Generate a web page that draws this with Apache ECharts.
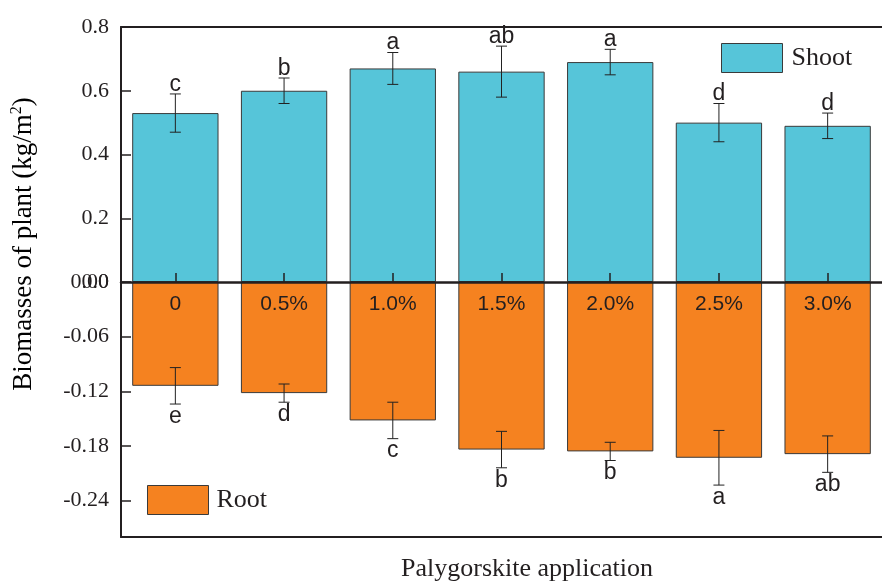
<!DOCTYPE html>
<html>
<head>
<meta charset="utf-8">
<script src="https://cdn.jsdelivr.net/npm/echarts@6/dist/echarts.min.js"></script>
<style>
  html, body { margin: 0; padding: 0; background: #fff; }
  #chart { width: 882px; height: 583px; }
</style>
</head>
<body>
<div id="chart"></div>
<script>
// Palygorskite application rates
const categories = ['0', '0.5%', '1.0%', '1.5%', '2.0%', '2.5%', '3.0%'];

// Shoot biomass (kg/m2), error and significance letters
const shootMean = [0.53, 0.60, 0.67, 0.66, 0.69, 0.50, 0.49];
const shootErr = [0.06, 0.04, 0.05, 0.08, 0.04, 0.06, 0.04];
const shootLetters = ['c', 'b', 'a', 'ab', 'a', 'd', 'd'];

// Root biomass (kg/m2, plotted downwards), error and significance letters
const rootMean = [-0.114, -0.122, -0.152, -0.184, -0.186, -0.193, -0.189];
const rootErr = [0.02, 0.01, 0.02, 0.02, 0.01, 0.03, 0.02];
const rootLetters = ['e', 'd', 'c', 'b', 'b', 'a', 'ab'];

// Tick values for the root value axis
const rootTicks = [0, -0.06, -0.12, -0.18, -0.24];

const SERIF = "'Liberation Serif', 'Times New Roman', serif";
const SANS = "'Liberation Sans', Arial, sans-serif";
const INK = '#231f20';
const SHOOT_COLOR = '#56c5d9';
const ROOT_COLOR = '#f58220';

const shootErrData = shootMean.map((m, i) => [i, m - shootErr[i], m + shootErr[i]]);
const rootErrData = rootMean.map((m, i) => [i, m - rootErr[i], m + rootErr[i]]);

function makeErrRenderer(letters, above) {
  return function (params, api) {
    const idx = api.value(0);
    const lo = api.coord([idx, api.value(1)]);
    const hi = api.coord([idx, api.value(2)]);
    const hw = 5.5;
    const stroke = { stroke: '#222', lineWidth: 1 };
    const font = '23px ' + SANS;
    const label = above
      ? { type: 'text', x: hi[0], y: hi[1] + 2,
          style: { text: letters[params.dataIndex], fill: INK, font: font, align: 'center', verticalAlign: 'bottom' } }
      : { type: 'text', x: lo[0], y: lo[1] + 1,
          style: { text: letters[params.dataIndex], fill: INK, font: font, align: 'center', verticalAlign: 'top' } };
    return {
      type: 'group',
      children: [
        { type: 'line', shape: { x1: hi[0], y1: hi[1], x2: lo[0], y2: lo[1] }, style: stroke },
        { type: 'line', shape: { x1: hi[0] - hw, y1: hi[1], x2: hi[0] + hw, y2: hi[1] }, style: stroke },
        { type: 'line', shape: { x1: lo[0] - hw, y1: lo[1], x2: lo[0] + hw, y2: lo[1] }, style: stroke },
        label
      ]
    };
  };
}

const axisLineStyle = { color: INK, width: 2 };

const chart = echarts.init(document.getElementById('chart'), null, { renderer: 'canvas' });

chart.setOption({
  animation: false,
  backgroundColor: '#fff',
  grid: [
    { left: 121, top: 27, width: 776, height: 255 },
    { left: 121, top: 282, width: 776, height: 255 }
  ],
  legend: [
    {
      data: ['Shoot'], left: 716, top: 38, icon: 'rect', padding: 5,
      itemWidth: 61, itemHeight: 29,
      itemStyle: { color: SHOOT_COLOR, borderColor: '#3a3a3a', borderWidth: 1 },
      textStyle: { fontFamily: SERIF, fontSize: 26, color: INK, padding: [0, 0, 0, 4] }
    },
    {
      data: ['Root'], left: 142, top: 480, icon: 'rect', padding: 5,
      itemWidth: 61, itemHeight: 29,
      itemStyle: { color: ROOT_COLOR, borderColor: '#3a3a3a', borderWidth: 1 },
      textStyle: { fontFamily: SERIF, fontSize: 26, color: INK, padding: [0, 0, 0, 3] }
    }
  ],
  xAxis: [
    { // zero line with centred inner ticks (shoot panel)
      type: 'category', data: categories, gridIndex: 0, position: 'bottom', z: 6,
      axisLine: { lineStyle: { color: INK, width: 2.5 } },
      axisTick: { show: true, inside: true, alignWithLabel: true, length: 9, lineStyle: { color: INK, width: 1.5 } },
      axisLabel: { show: false }
    },
    { // top frame line
      type: 'category', data: categories, gridIndex: 0, position: 'top',
      axisLine: { lineStyle: axisLineStyle },
      axisTick: { show: false }, axisLabel: { show: false }
    },
    { // category names inside the root bars
      type: 'category', data: categories, gridIndex: 1, position: 'top', z: 6,
      axisLine: { show: false },
      axisTick: { show: false },
      axisLabel: { inside: true, margin: 12, fontFamily: SANS, fontSize: 21, color: INK }
    },
    { // bottom frame line
      type: 'category', data: categories, gridIndex: 1, position: 'bottom',
      axisLine: { lineStyle: axisLineStyle },
      axisTick: { show: false }, axisLabel: { show: false }
    }
  ],
  yAxis: [
    {
      type: 'value', gridIndex: 0, min: 0, max: 0.8, interval: 0.2,
      axisLine: { show: true, lineStyle: axisLineStyle },
      axisTick: { show: true, inside: true, length: 10, lineStyle: { color: INK, width: 1.5 } },
      axisLabel: { margin: 12, fontFamily: SERIF, fontSize: 22, color: INK, formatter: v => v.toFixed(1) },
      splitLine: { show: false }
    },
    {
      type: 'value', gridIndex: 1, min: -0.28, max: 0,
      axisLine: { show: true, lineStyle: axisLineStyle },
      axisTick: { show: true, inside: true, length: 10, customValues: rootTicks, lineStyle: { color: INK, width: 1.5 } },
      axisLabel: { margin: 12, fontFamily: SERIF, fontSize: 22, color: INK, customValues: rootTicks, formatter: v => v.toFixed(2) },
      splitLine: { show: false }
    }
  ],
  series: [
    {
      name: 'Shoot', type: 'bar', xAxisIndex: 0, yAxisIndex: 0,
      data: shootMean, barCategoryGap: '20.6%',
      itemStyle: { color: SHOOT_COLOR, borderColor: '#3a3a3a', borderWidth: 1 }
    },
    {
      name: 'Root', type: 'bar', xAxisIndex: 2, yAxisIndex: 1,
      data: rootMean, barCategoryGap: '20.6%',
      itemStyle: { color: ROOT_COLOR, borderColor: '#3a3a3a', borderWidth: 1 }
    },
    {
      type: 'custom', xAxisIndex: 0, yAxisIndex: 0, z: 5, clip: false,
      data: shootErrData, renderItem: makeErrRenderer(shootLetters, true)
    },
    {
      type: 'custom', xAxisIndex: 2, yAxisIndex: 1, z: 5, clip: false,
      data: rootErrData, renderItem: makeErrRenderer(rootLetters, false)
    }
  ],
  graphic: [
    {
      type: 'text', x: 24, y: 244, rotation: Math.PI / 2,
      style: {
        text: '{n|Biomasses of plant (kg/m}{s|2}{n|)}',
        align: 'center', verticalAlign: 'middle',
        rich: {
          n: { fontFamily: SERIF, fontSize: 27, color: INK, lineHeight: 30 },
          s: { fontFamily: SERIF, fontSize: 16, color: INK, lineHeight: 30, verticalAlign: 'top' }
        }
      }
    },
    {
      type: 'text', x: 527, y: 569,
      style: {
        text: 'Palygorskite application', fill: INK,
        font: '26px ' + SERIF, align: 'center', verticalAlign: 'middle'
      }
    }
  ]
});
</script>
</body>
</html>
